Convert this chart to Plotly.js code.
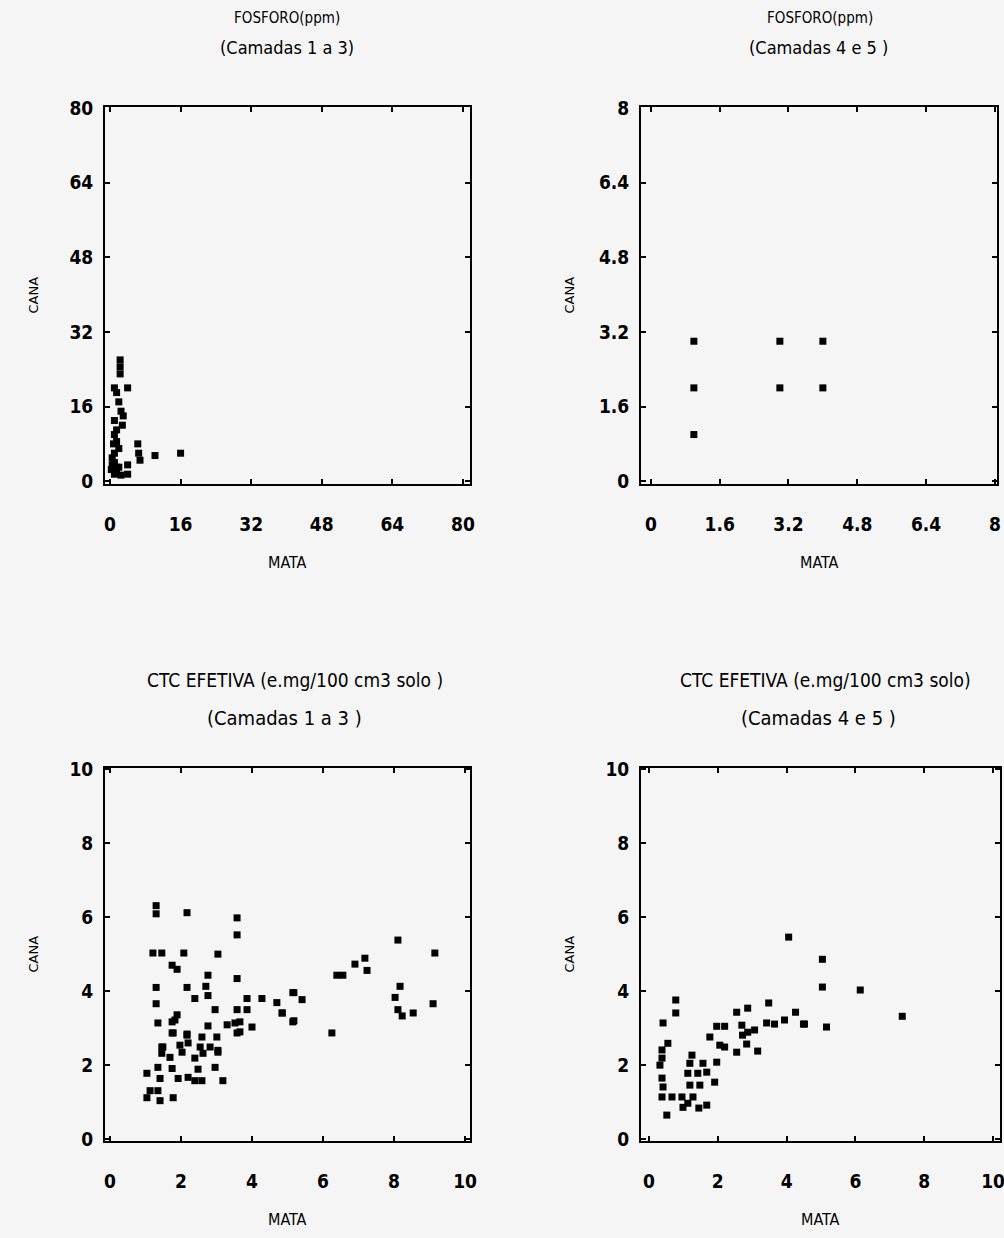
<!DOCTYPE html>
<html>
<head>
<meta charset="utf-8">
<script src="https://cdn.plot.ly/plotly-3.0.1.min.js"></script>
<style>
  html, body { margin: 0; padding: 0; background: #f5f5f5; }
  #chart { width: 1004px; height: 1238px; }
</style>
</head>
<body>
<div id="chart"></div>
<script>
// ---- Data: FOSFORO (ppm), Camadas 1 a 3 ----
const fosf13_mata = [2.3, 2.3, 2.3, 4, 1, 1.5, 2, 2.5, 3, 1, 1.5, 1, 1.5, 2, 1, 0.5, 1, 2, 0.3, 1.5, 6.3, 6.5, 6.8, 10.2, 16, 0.5, 1.5, 4, 1, 2.5, 4, 0.8, 2.8];
const fosf13_cana = [26, 24.5, 23, 20, 20, 19, 17, 15, 14, 13, 11, 10, 8.5, 7, 6, 5, 4, 3, 2.5, 2, 8, 6, 4.5, 5.5, 6, 3.5, 3, 3.5, 1.5, 1.3, 1.5, 8, 12];

// ---- Data: FOSFORO (ppm), Camadas 4 e 5 ----
const fosf45_mata = [1, 1, 1, 3, 3, 4, 4];
const fosf45_cana = [3, 2, 1, 3, 2, 3, 2];

// ---- Data: CTC EFETIVA, Camadas 1 a 3 ----
const ctc13_mata = [1.30, 1.30, 2.17, 3.58, 3.58, 1.21, 1.46, 2.08, 3.04, 1.75, 1.89, 2.76, 3.58, 1.30, 2.17, 2.70, 2.76, 2.39, 3.86, 4.28, 4.70, 4.85, 5.18, 5.18, 1.30, 2.96, 3.58, 3.86, 1.89, 1.75, 1.35, 2.76, 3.30, 4.00, 3.58, 3.66, 1.75, 2.17, 2.59, 3.01, 1.49, 1.97, 2.54, 2.82, 3.04,
  8.11, 9.15, 6.90, 7.18, 7.24, 6.39, 6.56, 8.17, 8.03, 8.11, 8.23, 8.54, 9.10, 5.15, 5.41, 4.85, 5.15, 6.25,
  1.83, 1.78, 2.17, 3.52, 3.66, 1.46, 1.46, 1.69, 2.03, 2.20, 2.39, 2.62, 3.04, 2.96, 1.35, 1.04, 1.41, 1.75, 1.92, 2.20, 2.39, 2.59, 2.48, 3.18, 1.13, 1.04, 1.35, 1.41, 1.78];
const ctc13_cana = [6.31, 6.09, 6.12, 5.98, 5.52, 5.03, 5.03, 5.03, 5.00, 4.70, 4.59, 4.43, 4.34, 4.10, 4.10, 4.13, 3.88, 3.80, 3.80, 3.80, 3.69, 3.41, 3.96, 3.20, 3.66, 3.50, 3.50, 3.50, 3.36, 3.17, 3.14, 3.06, 3.09, 3.03, 2.87, 3.17, 2.87, 2.84, 2.76, 2.76, 2.49, 2.54, 2.49, 2.49, 2.35,
  5.38, 5.03, 4.73, 4.89, 4.56, 4.43, 4.43, 4.13, 3.83, 3.50, 3.33, 3.41, 3.66, 3.96, 3.77, 3.41, 3.17, 2.87,
  3.22, 2.87, 2.81, 3.14, 2.90, 2.49, 2.32, 2.21, 2.35, 2.60, 2.19, 2.32, 2.40, 1.94, 1.94, 1.78, 1.64, 1.91, 1.64, 1.67, 1.58, 1.58, 1.89, 1.58, 1.31, 1.12, 1.31, 1.04, 1.12];

// ---- Data: CTC EFETIVA, Camadas 4 e 5 ----
const ctc45_mata = [4.06, 0.78, 0.78, 0.41, 3.48, 2.87, 2.55, 4.26, 4.52, 3.94, 3.42, 3.65, 1.97, 2.20, 2.70, 2.87, 3.07, 2.72, 2.84, 1.77, 2.06, 2.20, 2.55, 3.16,
  0.55, 0.38, 0.38, 0.32, 0.38, 0.41, 0.38, 0.67, 0.52, 1.25, 1.19, 1.57, 1.97, 1.13, 1.42, 1.68, 1.91, 1.19, 1.48, 0.96, 1.28, 0.99, 1.13, 1.45, 1.68,
  5.04, 5.04, 6.14, 4.49, 5.16, 7.36];
const ctc45_cana = [5.46, 3.76, 3.41, 3.14, 3.68, 3.54, 3.43, 3.43, 3.11, 3.22, 3.14, 3.11, 3.05, 3.05, 3.08, 2.89, 2.95, 2.81, 2.57, 2.76, 2.54, 2.49, 2.35, 2.38,
  2.59, 2.41, 2.19, 2.00, 1.65, 1.41, 1.14, 1.14, 0.65, 2.27, 2.05, 2.05, 2.08, 1.78, 1.78, 1.81, 1.54, 1.46, 1.46, 1.14, 1.14, 0.86, 0.97, 0.84, 0.92,
  4.86, 4.11, 4.03, 3.11, 3.03, 3.32];

// ---- Tick labels ----
const fosf13_ticks = [0, 16, 32, 48, 64, 80];
const fosf45_ticks = [0, 1.6, 3.2, 4.8, 6.4, 8];
const ctc_ticks = [0, 2, 4, 6, 8, 10];

// ---- Titles ----
const titles = [
  ["FOSFORO(ppm)", "(Camadas 1 a 3)"],
  ["FOSFORO(ppm)", "(Camadas 4 e 5 )"],
  ["CTC EFETIVA (e.mg/100 cm3 solo )", "(Camadas 1 a 3 )"],
  ["CTC EFETIVA (e.mg/100 cm3 solo)", "(Camadas 4 e 5 )"]
];
const xTitle = "MATA";
const yTitle = "CANA";

const W = 1004, H = 1238;
const FONT = "'DejaVu Sans Condensed', 'Liberation Sans Narrow', sans-serif";
const bg = "#f5f5f5";

function px(v) { return v / W; }
function py(v) { return 1 - v / H; }

const marker = { symbol: "square", size: 7, color: "#000" };

const traces = [
  { x: fosf13_mata, y: fosf13_cana, xaxis: "x", yaxis: "y" },
  { x: fosf45_mata, y: fosf45_cana, xaxis: "x2", yaxis: "y2" },
  { x: ctc13_mata, y: ctc13_cana, xaxis: "x3", yaxis: "y3" },
  { x: ctc45_mata, y: ctc45_cana, xaxis: "x4", yaxis: "y4" }
].map(t => Object.assign(t, { type: "scatter", mode: "markers", marker: marker, showlegend: false, hoverinfo: "x+y" }));

// frames in pixels: [left, right, top, bottom]
const frames = [
  [105, 470, 107, 484],
  [641, 997, 107, 484],
  [105, 470, 768, 1141],
  [641, 1000, 768, 1141]
];
const xranges = [[-1.13, 81.6], [-0.23, 8.05], [-0.14, 10.14], [-0.23, 10.2]];
const yranges = [[-0.6, 80.2], [-0.06, 8.02], [-0.05, 10.03], [-0.05, 10.03]];
const tickSets = [fosf13_ticks, fosf45_ticks, ctc_ticks, ctc_ticks];
// title centres (px) and sizes
const titleCx = [[287, 287], [820, 818], [295, 284], [825, 818]];
const titleSize = [[15, 18], [15, 18], [19, 20], [19, 20]];

const layout = {
  width: W, height: H, autosize: false,
  margin: { l: 0, r: 0, t: 0, b: 0 },
  paper_bgcolor: bg, plot_bgcolor: bg,
  showlegend: false,
  font: { family: FONT, color: "#000", size: 17 },
  annotations: []
};

frames.forEach((f, i) => {
  const n = i === 0 ? "" : String(i + 1);
  const common = {
    showgrid: false, zeroline: false,
    showline: true, linecolor: "#000", linewidth: 2, mirror: "ticks",
    ticks: "inside", ticklen: 5, tickwidth: 2, tickcolor: "#000",
    tickmode: "array", tickvals: tickSets[i], ticktext: tickSets[i].map(String),
    tickfont: { family: FONT, size: 19, color: "#000", weight: "bold" },
    ticklabeloverflow: "allow",
    fixedrange: true
  };
  layout["xaxis" + n] = Object.assign({}, common, {
    domain: [px(f[0]), px(f[1])], range: xranges[i], anchor: "y" + n,
    ticklabelstandoff: 22
  });
  layout["yaxis" + n] = Object.assign({}, common, {
    domain: [py(f[3]), py(f[2])], range: yranges[i], anchor: "x" + n,
    ticklabelstandoff: 6
  });
  const cx = (f[0] + f[1]) / 2;
  const cy = (f[2] + f[3]) / 2;
  const tTop = i < 2 ? 18 : 680;
  const tSub = i < 2 ? 48 : 718;
  layout.annotations.push(
    { text: titles[i][0], x: px(titleCx[i][0]), y: py(tTop), xref: "paper", yref: "paper", showarrow: false,
      xanchor: "center", yanchor: "middle", font: { family: FONT, size: titleSize[i][0], color: "#000" } },
    { text: titles[i][1], x: px(titleCx[i][1]), y: py(tSub), xref: "paper", yref: "paper", showarrow: false,
      xanchor: "center", yanchor: "middle", font: { family: FONT, size: titleSize[i][1], color: "#000" } },
    { text: xTitle, x: px(cx), y: py(f[3] + 78), xref: "paper", yref: "paper", showarrow: false,
      xanchor: "center", yanchor: "middle", font: { family: FONT, size: 16, color: "#000" } },
    { text: yTitle, x: px(f[0] - 72), y: py(cy), xref: "paper", yref: "paper", showarrow: false,
      xanchor: "center", yanchor: "middle", textangle: -90, font: { family: "'DejaVu Sans', sans-serif", size: 13, color: "#000" } }
  );
});

Plotly.newPlot("chart", traces, layout, { staticPlot: true, displayModeBar: false });
</script>
</body>
</html>
